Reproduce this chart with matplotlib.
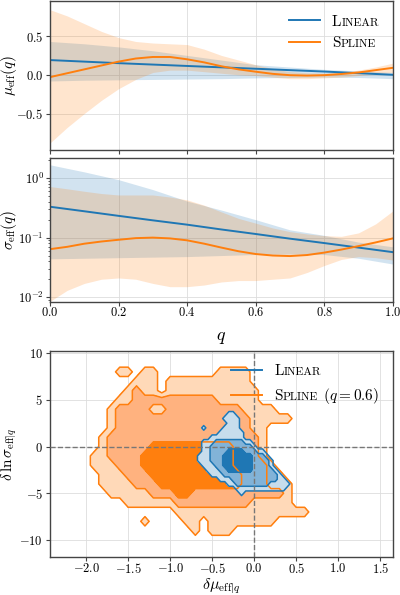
import numpy as np
import matplotlib
matplotlib.use('Agg')
import matplotlib.pyplot as plt
from matplotlib.ticker import FuncFormatter, MultipleLocator
from matplotlib.lines import Line2D
from matplotlib.offsetbox import TextArea, HPacker

plt.rcParams['font.family'] = 'serif'
plt.rcParams['font.serif'] = ['cmr10']
plt.rcParams['mathtext.fontset'] = 'cm'
plt.rcParams['axes.unicode_minus'] = False
plt.rcParams['axes.formatter.use_mathtext'] = True

# ---- data ----
q_lin = [0.0, 0.1, 0.2, 0.3, 0.4, 0.5, 0.6, 0.7, 0.8, 0.9, 1.0]
q_spl = [0.0, 0.05, 0.1, 0.15, 0.2, 0.25, 0.3, 0.35, 0.4, 0.45, 0.5,
         0.55, 0.6, 0.65, 0.7, 0.75, 0.8, 0.85, 0.9, 0.95, 1.0]

# mu_eff(q)
mu_lin = [0.19, 0.17, 0.15, 0.132, 0.114, 0.096, 0.078, 0.06, 0.042, 0.021, 0.0]
mu_lin_hi = [0.43, 0.40, 0.36, 0.31, 0.25, 0.19, 0.13, 0.10, 0.07, 0.05, 0.03]
mu_lin_lo = [-0.08, -0.07, -0.065, -0.06, -0.055, -0.05, -0.04, -0.035, -0.03, -0.035, -0.05]
mu_spl = [-0.03, 0.02, 0.07, 0.12, 0.17, 0.21, 0.23, 0.23, 0.2, 0.16, 0.11,
          0.07, 0.04, 0.012, -0.005, -0.01, -0.005, 0.01, 0.03, 0.06, 0.09]
mu_spl_hi = [0.84, 0.76, 0.66, 0.56, 0.48, 0.43, 0.41, 0.40, 0.39, 0.33, 0.25,
             0.19, 0.13, 0.08, 0.04, 0.025, 0.02, 0.03, 0.06, 0.1, 0.15]
mu_spl_lo = [-0.88, -0.68, -0.5, -0.33, -0.18, -0.06, 0.03, 0.06, 0.06, 0.04, 0.02,
             0.0, -0.01, -0.03, -0.05, -0.05, -0.04, -0.03, -0.01, 0.01, 0.03]

# sigma_eff(q)
sig_lin = [0.33, 0.277, 0.232, 0.195, 0.165, 0.137, 0.115, 0.096, 0.081, 0.068, 0.057]
sig_lin_hi = [1.67, 1.27, 0.94, 0.64, 0.41, 0.29, 0.2, 0.135, 0.109, 0.084, 0.07]
sig_lin_lo = [0.044, 0.045, 0.046, 0.047, 0.048, 0.05, 0.052, 0.053, 0.052, 0.045, 0.036]
sig_spl = [0.064, 0.07, 0.079, 0.086, 0.092, 0.098, 0.1, 0.097, 0.09, 0.079, 0.068,
           0.059, 0.053, 0.05, 0.049, 0.051, 0.056, 0.063, 0.072, 0.083, 0.097]
sig_spl_hi = [0.72, 0.66, 0.6, 0.55, 0.52, 0.52, 0.52, 0.48, 0.43, 0.35, 0.27,
              0.21, 0.175, 0.145, 0.126, 0.115, 0.108, 0.105, 0.12, 0.17, 0.28]
sig_spl_lo = [0.0085, 0.013, 0.017, 0.02, 0.021, 0.02, 0.017, 0.015, 0.015, 0.016, 0.018,
              0.019, 0.019, 0.02, 0.021, 0.026, 0.034, 0.043, 0.048, 0.046, 0.042]

# 2d credible levels (0 outside, 1/2/3 = outer/middle/inner), rows top -> bottom
spline_dmu = np.linspace(-2.0, 0.8, 29)
spline_dlns = np.linspace(9, -10, 20)
spline_levels = [
    "00000 00000 00000 00000 00000 0000",
    "00001 10110 00000 01111 00000 0000",
    "00000 01110 11111 11111 00000 0000",
    "00000 12110 11111 11111 10000 0000",
    "00001 12222 22222 21111 10000 0000",
    "00012 22211 22222 22221 11100 0000",
    "00012 22222 22222 22222 11111 0000",
    "00012 22222 22222 22222 11000 0000",
    "00122 22222 22222 22222 21000 0000",
    "00122 22233 33333 33322 21000 0000",
    "01122 22333 33333 33322 21000 0000",
    "01112 22333 33333 33322 22100 0000",
    "00111 22233 33333 33332 22110 0000",
    "00111 12223 33333 33332 22111 0000",
    "00011 11122 23322 22222 22221 0000",
    "00000 11111 12222 22222 11111 0000",
    "00000 00000 01111 11111 11111 1100",
    "00000 00100 00110 11111 11100 0000",
    "00000 00000 00010 11100 00000 0000",
    "00000 00000 00000 00000 00000 0000",
]
linear_dmu = np.linspace(-0.7, 0.45, 24)
linear_dlns = np.linspace(4.0, -5.5, 20)
linear_levels = [
    "00000 00000 00000 00000 0000",
    "00000 00011 00000 00000 0000",
    "00000 00111 10000 00000 0000",
    "00000 00011 10000 00000 0000",
    "00100 00111 10000 00000 0000",
    "00000 01111 11000 00000 0000",
    "00001 11111 11000 00000 0000",
    "00111 22222 22110 00000 0000",
    "00112 22222 22221 00000 0000",
    "00112 22233 33222 11000 0000",
    "01112 22333 33332 22100 0000",
    "01112 22333 33332 22210 0000",
    "00111 22333 33332 22210 0000",
    "00011 12233 33332 22221 0000",
    "00001 11222 22222 22222 1000",
    "00000 01112 22222 22222 1100",
    "00000 00011 22222 22211 1110",
    "00000 00000 11111 11111 1100",
    "00000 00000 01000 00000 0000",
    "00000 00000 00000 00000 0000",
]


def to_grid(rows):
    return np.array([[int(c) for c in r.replace(' ', '')] for r in rows], dtype=float)


C0 = '#1f77b4'
C1 = '#ff7f0e'
EDGE = '#444444'


def fmt1(v, pos):
    if abs(v) < 1e-9:
        v = 0.0
    return '$%.1f$' % v


def fmt0(v, pos):
    if abs(v) < 1e-9:
        v = 0.0
    return '$%d$' % round(v)


def style(ax):
    ax.set_axisbelow(True)
    ax.grid(True, color='#dddddd', lw=0.6)
    for s in ax.spines.values():
        s.set_color(EDGE)
        s.set_linewidth(1.0)
    ax.tick_params(which='both', direction='out', color=EDGE, labelsize=9)
    ax.tick_params(axis='x', which='major', length=2.8, pad=0.6)
    ax.tick_params(axis='y', which='major', length=3, pad=2)
    ax.tick_params(which='minor', length=1.8)


def smallcaps(leg, labels, size=11, small=8.3):
    # rebuild each legend label as Big + SMALL + tail (small caps look)
    rows = [it for col in leg._legend_handle_box.get_children() for it in col.get_children()]
    for item, (big, rest, tail) in zip(rows, labels):
        parts = [TextArea(big, textprops=dict(fontsize=size)),
                 TextArea(rest, textprops=dict(fontsize=small))]
        if tail:
            parts.append(TextArea(tail, textprops=dict(fontsize=size)))
        item._children[1] = HPacker(children=parts, pad=0, sep=0, align='baseline')
    leg._legend_box.set_figure(leg.figure)


fig = plt.figure(figsize=(4, 5.95), dpi=100)
ax1 = fig.add_axes([0.125, 0.748, 0.857, 0.25])
ax2 = fig.add_axes([0.125, 0.493, 0.857, 0.242])
ax3 = fig.add_axes([0.125, 0.0634, 0.857, 0.347])

# top: mu_eff
ax1.fill_between(q_lin, mu_lin_lo, mu_lin_hi, color=C0, alpha=0.2, lw=0)
ax1.fill_between(q_spl, mu_spl_lo, mu_spl_hi, color=C1, alpha=0.2, lw=0)
ax1.plot(q_lin, mu_lin, color=C0, lw=1.4, label='Linear')
ax1.plot(q_spl, mu_spl, color=C1, lw=1.4, label='Spline')
ax1.set_xlim(0, 1)
ax1.set_ylim(-0.97, 0.95)
ax1.set_xticks(np.arange(0, 1.01, 0.2))
ax1.set_yticks([-0.5, 0.0, 0.5])
ax1.yaxis.set_major_formatter(FuncFormatter(fmt1))
ax1.tick_params(labelbottom=False)
ax1.set_ylabel(r'$\mu_{\rm eff}(q)$', fontsize=11)
style(ax1)
leg1 = ax1.legend(loc='upper right', frameon=False, fontsize=11)
smallcaps(leg1, [('L', 'INEAR', ''), ('S', 'PLINE', '')])

# middle: sigma_eff
ax2.fill_between(q_lin, sig_lin_lo, sig_lin_hi, color=C0, alpha=0.2, lw=0)
ax2.fill_between(q_spl, sig_spl_lo, sig_spl_hi, color=C1, alpha=0.2, lw=0)
ax2.plot(q_lin, sig_lin, color=C0, lw=1.4)
ax2.plot(q_spl, sig_spl, color=C1, lw=1.4)
ax2.set_yscale('log')
ax2.set_xlim(0, 1)
ax2.set_ylim(0.0084, 2.2)
ax2.set_xticks(np.arange(0, 1.01, 0.2))
ax2.xaxis.set_major_formatter(FuncFormatter(fmt1))
ax2.set_ylabel(r'$\sigma_{\rm eff}(q)$', fontsize=11)
ax2.set_xlabel(r'$q$', fontsize=13, labelpad=8)
style(ax2)
ax2.tick_params(axis='y', which='major', pad=1.5)
ax2.grid(False, which='minor')

# bottom: 2d contours
Zs = to_grid(spline_levels)[::-1]
Zl = to_grid(linear_levels)[::-1]
Xs, Ys = np.meshgrid(spline_dmu, spline_dlns[::-1])
Xl, Yl = np.meshgrid(linear_dmu, linear_dlns[::-1])
ax3.contourf(Xs, Ys, Zs, levels=[0.5, 1.5, 2.5, 3.5],
             colors=['#ffd9b8', '#ffb27f', C1], zorder=1)
ax3.contourf(Xl, Yl, Zl, levels=[0.5, 1.5, 2.5, 3.5],
             colors=['#c7ddec', '#82b3d8', C0], zorder=2)
ax3.contour(Xs, Ys, Zs, levels=[0.5, 1.5, 2.5], colors=C1, linewidths=1.1, zorder=3)
ax3.contour(Xl, Yl, Zl, levels=[0.5, 1.5, 2.5], colors=C0, linewidths=1.1, zorder=4)
ax3.axhline(0, color='#777777', ls='--', lw=1, zorder=5)
ax3.axvline(0, color='#777777', ls='--', lw=1, zorder=5)
ax3.set_xlim(-2.43, 1.65)
ax3.set_ylim(-11.85, 10.25)
ax3.xaxis.set_major_locator(MultipleLocator(0.5))
ax3.yaxis.set_major_locator(MultipleLocator(5))
ax3.xaxis.set_major_formatter(FuncFormatter(fmt1))
ax3.yaxis.set_major_formatter(FuncFormatter(fmt0))
ax3.set_xlabel(r'$\delta\mu_{{\rm eff}|q}$', fontsize=11.5, labelpad=0)
ax3.set_ylabel(r'$\delta\,\ln\sigma_{{\rm eff}|q}$', fontsize=11)
style(ax3)
handles = [Line2D([], [], color=C0, lw=1.4), Line2D([], [], color=C1, lw=1.4)]
leg3 = ax3.legend(handles, ['Linear', 'Spline'], loc='upper right', frameon=False, fontsize=11)
smallcaps(leg3, [('L', 'INEAR', ''), ('S', 'PLINE', r' $(q = 0.6)$')])

for ax in (ax1, ax2, ax3):
    ax.yaxis.set_label_coords(-0.09, 0.5)

fig.savefig('out.png', dpi=100)
